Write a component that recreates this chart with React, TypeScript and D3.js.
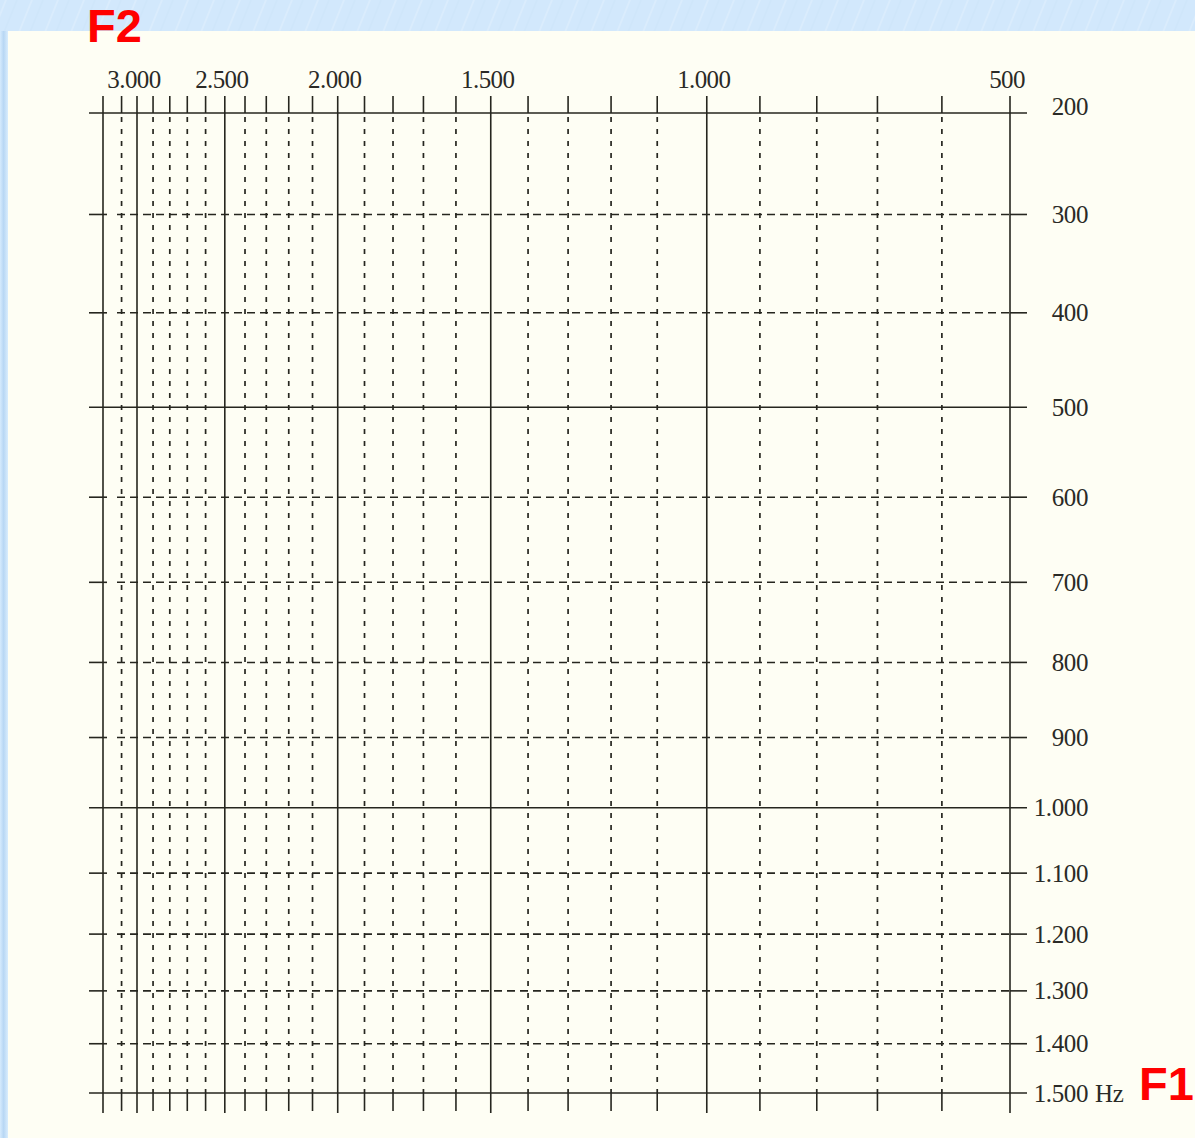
import React from "react";
import * as d3 from "d3";

// Second formant (horizontal axis, Hz), one grid line every 100 Hz
const F2_GRID = [
  3100, 3000, 2900, 2800, 2700, 2600, 2500, 2400, 2300, 2200, 2100, 2000,
  1900, 1800, 1700, 1600, 1500, 1400, 1300, 1200, 1100, 1000, 900, 800, 700, 600, 500,
];
const F2_SOLID = [3000, 2500, 2000, 1500, 1000, 500];
const F2_LABELS = [3000, 2500, 2000, 1500, 1000, 500];

// First formant (vertical axis, Hz)
const F1_GRID = [200, 300, 400, 500, 600, 700, 800, 900, 1000, 1100, 1200, 1300, 1400, 1500];
const F1_SOLID = [200, 500, 1000, 1500];
const F1_LABELS = [200, 300, 400, 500, 600, 700, 800, 900, 1000, 1100, 1200, 1300, 1400, 1500];
const UNIT = "Hz";

// Zwicker critical-band (Bark) transform used by both axes
const bark = (f: number) => 13 * Math.atan(0.00076 * f) + 3.5 * Math.atan((f / 7500) ** 2);

const W = 1195;
const H = 1138;
const frameLeft = 103;
const plot = { hi: 137, lo: 1010, top: 113, bottom: 1093 };

const x = d3.scaleLinear().domain([bark(3000), bark(500)]).range([plot.hi, plot.lo]);
const y = d3.scaleLinear().domain([bark(200), bark(1500)]).range([plot.top, plot.bottom]);
const fx = (f: number) => x(bark(f));
const fy = (f: number) => y(bark(f));

const fmt = d3
  .formatLocale({ decimal: ",", thousands: ".", grouping: [3], currency: ["", ""] })
  .format(",d");

const INK = "#26261f";
const TEXT = "#2a2a26";
const PAPER = "#fefef4";
const SKY = "#d2e8fc";

export default function App() {
  const topTick = plot.top - 17;
  const bottomTick = plot.bottom + 20;
  const leftTick = frameLeft - 14;
  const rightTick = plot.lo + 17;
  const serif = "'Liberation Serif', 'Times New Roman', serif";

  return (
    <svg
      width={W}
      height={H}
      viewBox={`0 0 ${W} ${H}`}
      style={{ position: "absolute", left: 0, top: 0, display: "block" }}
    >
      <defs>
        <pattern id="streaks" width="26" height="31" patternUnits="userSpaceOnUse" patternTransform="skewX(-22)">
          <line x1="6" y1="0" x2="6" y2="31" stroke="#ffffff" strokeOpacity="0.18" strokeWidth="2" />
          <line x1="17" y1="0" x2="17" y2="31" stroke="#bcd8f3" strokeOpacity="0.18" strokeWidth="1.5" />
        </pattern>
        <linearGradient id="edge" x1="0" x2="1" y1="0" y2="0">
          <stop offset="0" stopColor="#d6ebfd" />
          <stop offset="0.45" stopColor="#b8d7f4" />
          <stop offset="1" stopColor="#d9edfd" />
        </linearGradient>
      </defs>

      {/* slide background and paper sheet */}
      <rect x={0} y={0} width={W} height={H} fill={SKY} />
      <rect x={0} y={0} width={W} height={31} fill="url(#streaks)" />
      <rect x={0} y={31} width={8} height={H - 31} fill="url(#edge)" />
      <rect x={8} y={31} width={W - 8} height={H - 31} fill={PAPER} />

      {/* left frame */}
      <line x1={frameLeft} x2={frameLeft} y1={topTick} y2={bottomTick} stroke={INK} strokeWidth={1.6} />

      {/* vertical grid (F2) */}
      <g>
        {F2_GRID.map((f) => {
          const xx = fx(f);
          const solid = F2_SOLID.includes(f);
          return solid ? (
            <line key={f} x1={xx} x2={xx} y1={topTick} y2={bottomTick} stroke={INK} strokeWidth={1.6} />
          ) : (
            <g key={f}>
              <line x1={xx} x2={xx} y1={topTick} y2={plot.top} stroke={INK} strokeWidth={1.6} />
              <line
                x1={xx}
                x2={xx}
                y1={plot.top + 4}
                y2={plot.bottom}
                stroke={INK}
                strokeWidth={1.7}
                strokeDasharray="5,7"
              />
              <line x1={xx} x2={xx} y1={plot.bottom} y2={bottomTick - 2} stroke={INK} strokeWidth={1.6} />
            </g>
          );
        })}
      </g>

      {/* horizontal grid (F1) */}
      <g>
        {F1_GRID.map((f) => {
          const yy = fy(f);
          const solid = F1_SOLID.includes(f);
          return solid ? (
            <line key={f} x1={leftTick} x2={rightTick} y1={yy} y2={yy} stroke={INK} strokeWidth={1.6} />
          ) : (
            <g key={f}>
              <line x1={leftTick} x2={frameLeft + 4} y1={yy} y2={yy} stroke={INK} strokeWidth={1.6} />
              <line
                x1={frameLeft + 14}
                x2={plot.lo}
                y1={yy}
                y2={yy}
                stroke={INK}
                strokeWidth={1.6}
                strokeDasharray="8,5"
              />
              <line x1={plot.lo} x2={rightTick} y1={yy} y2={yy} stroke={INK} strokeWidth={1.6} />
            </g>
          );
        })}
      </g>

      {/* F2 labels along the top */}
      <g fontFamily={serif} fontSize={25} fill={TEXT} letterSpacing="-0.6">
        {F2_LABELS.map((f) => (
          <text key={f} x={fx(f) - 3} y={88} textAnchor="middle">
            {fmt(f)}
          </text>
        ))}
      </g>

      {/* F1 labels along the right */}
      <g fontFamily={serif} fontSize={25} fill={TEXT} letterSpacing="-0.4">
        {F1_LABELS.map((f, i) => (
          <text key={f} x={1088} y={fy(f) + (i === 0 ? -7 : 0)} dy="0.34em" textAnchor="end">
            {fmt(f)}
          </text>
        ))}
        <text x={1095} y={fy(F1_LABELS[F1_LABELS.length - 1])} dy="0.34em" textAnchor="start">
          {UNIT}
        </text>
      </g>

      {/* axis titles */}
      <g fontFamily="'Liberation Sans', Arial, sans-serif" fontWeight="bold" fontSize={47} fill="#ff0000">
        <text x={87} y={42}>F2</text>
        <text x={1139} y={1100}>F1</text>
      </g>
    </svg>
  );
}
